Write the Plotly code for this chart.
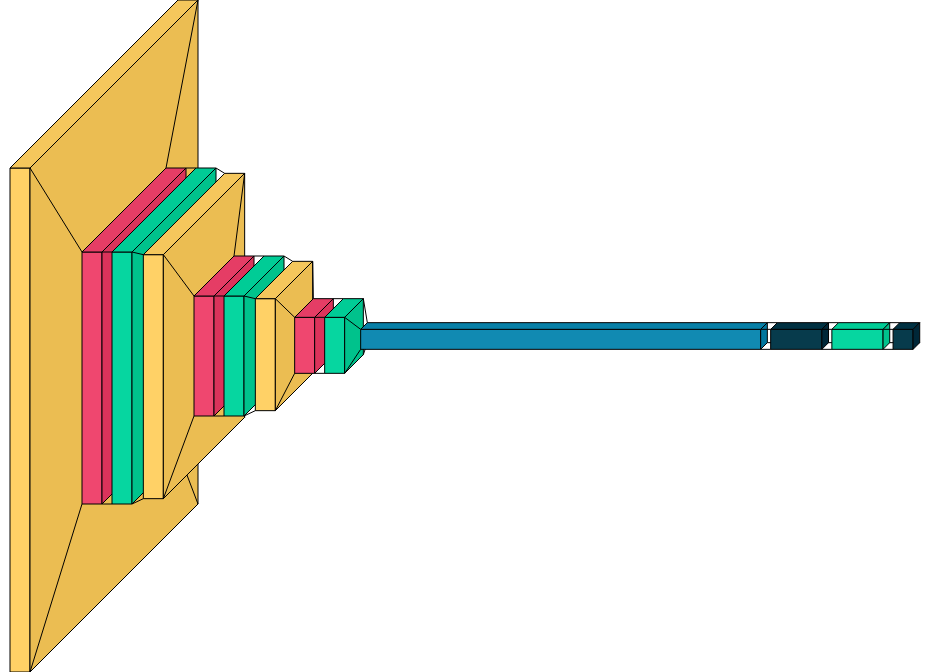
import plotly.graph_objects as go

# layers from left to right, sizes of the front face in pixels
layer_types = ["conv", "norm", "act", "conv", "norm", "act", "conv",
               "norm", "act", "flatten", "dense", "act", "dense"]
face_heights = [504, 252, 252, 244, 120, 120, 112, 56, 56, 20, 20, 20, 20]
face_widths = [20, 20, 20, 20, 20, 20, 20, 20, 20, 400, 51.2, 51.2, 20]

type_colors = {
    "conv": "#FFD166",
    "norm": "#EF476F",
    "act": "#06D6A0",
    "flatten": "#118AB2",
    "dense": "#073B4C",
}

SPACING = 10
SHADE = 10
LEFT = 10
MID_Y = 336


def fade(hex_color, amount):
    r, g, b = (int(hex_color[i:i + 2], 16) for i in (1, 3, 5))
    return "rgb(%d,%d,%d)" % (max(0, r - amount), max(0, g - amount), max(0, b - amount))


def build_boxes():
    boxes = []
    prev = None
    for kind, h, w in zip(layer_types, face_heights, face_widths):
        de = h / 3
        if prev is None:
            x1 = LEFT
        else:
            x1 = prev["x2"] + SPACING + max(0, (prev["de"] - de) / 2)
        y1 = MID_Y - (h + de) / 2 + de
        boxes.append({"x1": x1, "x2": x1 + w, "y1": y1, "y2": y1 + h,
                      "de": de, "color": type_colors[kind]})
        prev = boxes[-1]
    return boxes


def segments(pairs):
    xs, ys = [], []
    for (ax, ay), (bx, by) in pairs:
        xs += [ax, bx, None]
        ys += [ay, by, None]
    return xs, ys


def poly(fig, pts, fill):
    xs = [p[0] for p in pts] + [pts[0][0]]
    ys = [p[1] for p in pts] + [pts[0][1]]
    fig.add_trace(go.Scatter(
        x=xs, y=ys, mode="lines", fill="toself", fillcolor=fill,
        line=dict(color="black", width=1), hoverinfo="skip", showlegend=False,
    ))


def lines(fig, pairs):
    xs, ys = segments(pairs)
    fig.add_trace(go.Scatter(
        x=xs, y=ys, mode="lines", line=dict(color="black", width=1),
        hoverinfo="skip", showlegend=False,
    ))


fig = go.Figure()
last = None
for b in build_boxes():
    x1, x2, y1, y2, de = b["x1"], b["x2"], b["y1"], b["y2"], b["de"]
    if last is not None:
        lines(fig, [
            ((last["x2"] + last["de"], last["y1"] - last["de"]), (x1 + de, y1 - de)),
            ((last["x2"] + last["de"], last["y2"] - last["de"]), (x1 + de, y2 - de)),
            ((last["x2"], last["y2"]), (x1, y2)),
            ((last["x2"], last["y1"]), (x1, y1)),
        ])
    # hidden edges, mostly covered by the faces
    lines(fig, [
        ((x1 + de, y1 - de), (x1 + de, y2 - de)),
        ((x1 + de, y2 - de), (x1, y2)),
        ((x1 + de, y2 - de), (x2 + de, y2 - de)),
    ])
    poly(fig, [(x1, y1), (x2, y1), (x2, y2), (x1, y2)], b["color"])
    poly(fig, [(x1, y1), (x1 + de, y1 - de), (x2 + de, y1 - de), (x2, y1)],
         fade(b["color"], SHADE))
    poly(fig, [(x2 + de, y1 - de), (x2, y1), (x2, y2), (x2 + de, y2 - de)],
         fade(b["color"], 2 * SHADE))
    last = b

fig.update_xaxes(visible=False, range=[0, 930], fixedrange=True)
fig.update_yaxes(visible=False, range=[672, 0], fixedrange=True)
fig.update_layout(
    width=930, height=672, margin=dict(l=0, r=0, t=0, b=0),
    plot_bgcolor="white", paper_bgcolor="white",
)
fig.write_html(
    "out.html",
    config={"displayModeBar": False},
    post_script="document.body.style.margin='0';document.body.style.overflow='hidden';",
)
